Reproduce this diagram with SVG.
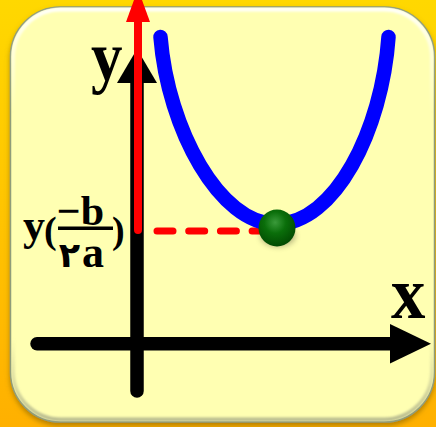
<svg xmlns="http://www.w3.org/2000/svg" width="436" height="427" viewBox="0 0 436 427">
<defs>
<linearGradient id="bg" x1="0" y1="0" x2="0" y2="1">
<stop offset="0" stop-color="#FFD800"/>
<stop offset="1" stop-color="#FFB000"/>
</linearGradient>
<linearGradient id="edge" x1="0" y1="0" x2="0" y2="1">
<stop offset="0" stop-color="#FFFFFF" stop-opacity="0.95"/>
<stop offset="0.25" stop-color="#FFFFFF" stop-opacity="0"/>
<stop offset="0.8" stop-color="#B8B890" stop-opacity="0"/>
<stop offset="1" stop-color="#A8AC88" stop-opacity="0.8"/>
</linearGradient>
<radialGradient id="ball" cx="0.45" cy="0.35" r="0.65">
<stop offset="0" stop-color="#3A9A3A"/>
<stop offset="0.45" stop-color="#0A6E0A"/>
<stop offset="1" stop-color="#024A02"/>
</radialGradient>
<filter id="shadow" x="-10%" y="-10%" width="120%" height="120%">
<feDropShadow dx="0" dy="3" stdDeviation="2.5" flood-color="#7A5A00" flood-opacity="0.55"/>
</filter>
<filter id="blur" x="-10%" y="-10%" width="120%" height="120%">
<feGaussianBlur stdDeviation="1.2"/>
</filter>
<filter id="bshadow" x="-50%" y="-50%" width="200%" height="200%">
<feGaussianBlur stdDeviation="3"/>
</filter>
<clipPath id="cardclip"><rect x="10.5" y="7" width="424" height="415" rx="50"/></clipPath>
<style>
.lbl{font-family:"Liberation Serif","Times New Roman",serif;font-weight:bold;fill:#000}
.ar{font-family:"DejaVu Sans","Noto Sans",sans-serif;font-weight:bold}
.axis{stroke:#000;stroke-width:13.5;stroke-linecap:round;fill:none}
</style>
</defs>
<rect id="background" x="0" y="0" width="436" height="427" fill="url(#bg)"/>
<g id="card">
<rect x="10.5" y="7" width="424" height="415" rx="50" fill="#FFFFB2" stroke="#8E9C7A" stroke-width="1.5" filter="url(#shadow)"/>
<g clip-path="url(#cardclip)">
<rect x="13" y="9.5" width="419" height="410" rx="48" fill="none" stroke="url(#edge)" stroke-width="4" filter="url(#blur)"/>
</g>
</g>
<g id="connectors">
<line id="y-axis" class="axis" x1="137" y1="82" x2="137" y2="391"/>
<polygon points="137,49 117,83 157,83" fill="#000"/>
<line id="x-axis" class="axis" x1="37" y1="343.7" x2="392" y2="343.7"/>
<polygon points="431,343.7 390,324 390,363.5" fill="#000"/>
<line id="red-arrow" x1="138" y1="20" x2="138" y2="230" stroke="#FF0000" stroke-width="8" stroke-linecap="round"/>
<polygon points="138,-11 126,22 150,22" fill="#FF0000"/>
<path id="dashed" d="M157 231 H268" stroke="#FF0000" stroke-width="7" stroke-linecap="round" stroke-dasharray="16 15.7" fill="none"/>
</g>
<g id="parabola">
<path d="M160.5 37 C168 130 220 224 276 224 C335 224 382 130 388.5 37" fill="none" stroke="#0000FF" stroke-width="14.5" stroke-linecap="round"/>
</g>
<g id="vertex">
<ellipse cx="278" cy="236" rx="17" ry="10" fill="#000" opacity="0.35" filter="url(#bshadow)"/>
<circle cx="277" cy="228" r="18.5" fill="url(#ball)"/>
</g>
<g id="labels">
<text id="y-label" class="lbl" font-size="70" transform="translate(91,80) scale(0.9,1)">y</text>
<text id="x-label" class="lbl" font-size="74" transform="translate(391,318) scale(0.93,1)">x</text>
<g id="vertex-label">
<text class="lbl" font-size="44"><tspan x="23" y="240">y</tspan><tspan x="44" y="243" font-size="38">(</tspan><tspan x="104" y="225" font-size="42" text-anchor="end">−b</tspan><tspan class="ar" x="80" y="266.7" font-size="35" text-anchor="end">۲</tspan><tspan x="104" y="266.7" text-anchor="end">a</tspan><tspan x="112" y="243" font-size="38">)</tspan></text>
<rect x="58" y="226.5" width="55" height="3.5" fill="#000"/>
</g>
</g>
</svg>
